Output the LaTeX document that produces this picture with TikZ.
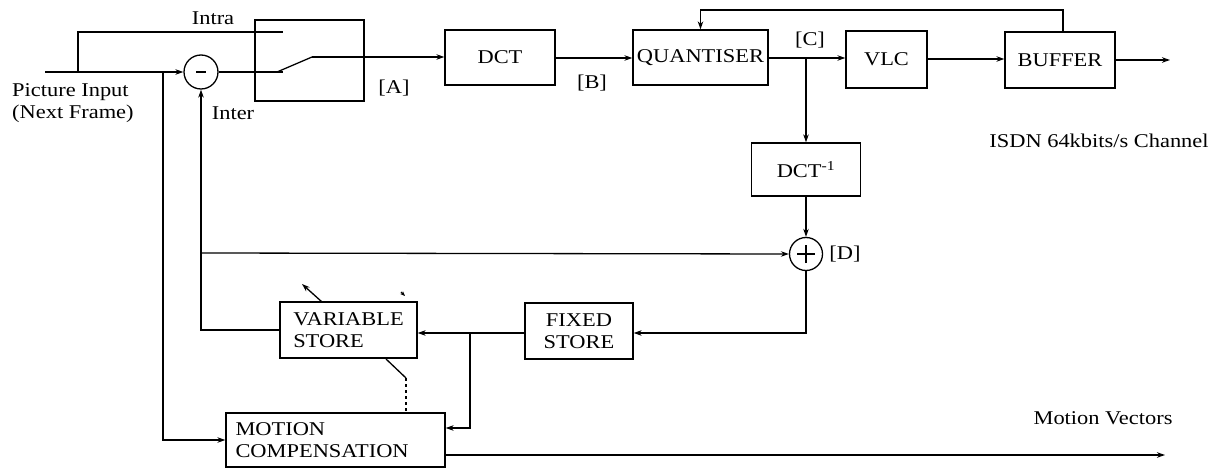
\documentclass[tikz,border=0pt]{standalone}
\usepackage{fontspec}
\setmainfont[FakeStretch=1.15]{Liberation Serif}
\usetikzlibrary{arrows.meta}
\tikzset{
  ln/.style={line width=1.3pt},
  arr/.style={ln,-{Stealth[length=8pt,width=5.5pt]}},
  blk/.style={draw,ln,inner sep=0pt,font=\fontsize{19.5}{22}\selectfont},
  lbl/.style={font=\fontsize{19.5}{22}\selectfont,inner sep=0pt},
  sumc/.style={draw,ln,circle,inner sep=0pt,minimum size=34pt}
}
\begin{document}
\begin{tikzpicture}[x=1pt,y=-1pt]
\useasboundingbox (0,0) rectangle (1222,470);
% blocks
\node[blk,minimum width=109pt,minimum height=81pt] (sw) at (309.5,60.5) {};
\node[blk,minimum width=110pt,minimum height=55pt] (dct) at (500,57.5) {DCT};
\node[blk,minimum width=135pt,minimum height=55pt] (qu) at (700.5,57.5) {QUANTISER};
\node[blk,minimum width=81pt,minimum height=57pt] (vlc) at (886.5,59.5) {VLC};
\node[blk,minimum width=110pt,minimum height=56pt] (buf) at (1060,60) {BUFFER};
\node[blk,minimum width=109pt,minimum height=53pt] (idct) at (806,169.5) {DCT\textsuperscript{-1}};
\node[blk,minimum width=108pt,minimum height=56pt,align=center] (fix) at (579,331) {FIXED\\STORE};
\node[blk,minimum width=137pt,minimum height=56pt,align=left] (var) at (348.5,330) {VARIABLE\\STORE};
\node[blk,minimum width=219pt,minimum height=54pt,align=left,text width=200pt] (mc) at (335.5,440) {MOTION\\COMPENSATION};
\node[sumc] (sub) at (201,72) {};
\draw[ln] ([xshift=-5pt]sub.center) -- ([xshift=5pt]sub.center);
\node[sumc,minimum size=33pt] (add) at (806,254) {};
\draw[ln] ([xshift=-9pt]add.center) -- ([xshift=9pt]add.center);
\draw[ln] ([yshift=-9pt]add.center) -- ([yshift=9pt]add.center);
% coordinates
\coordinate (in) at (45,72);
\coordinate (j1) at (78,72);
\coordinate (j2) at (163,72);
\coordinate (ci) at (283,32);
\coordinate (cl) at (283,72);
\coordinate (bl) at (277,72);
\coordinate (bt) at (312,57);
\coordinate (jc) at (806,58);
\coordinate (jf) at (470,333);
\coordinate (jv) at (201,253);
\coordinate (out) at (1170,60);
\coordinate (mvo) at (1165,455);
% connectors
\draw[arr] (in) -- (sub.west);
\draw[ln] (j1) |- (ci);
\draw[arr] (j2) |- (mc.west);
\draw[ln] (sub.east) -- (cl);
\draw[ln] (bl) -- (bt);
\draw[arr] (bt) -- (bt -| dct.west);
\draw[arr] (dct.east |- 0,58) -- (qu.west |- 0,58);
\draw[arr] (qu.east |- 0,58) -- (vlc.west |- 0,58);
\draw[arr] (jc) -- (idct.north);
\draw[arr] (vlc.east |- 0,59) -- (buf.west |- 0,59);
\draw[arr] (buf.east) -- (out);
\draw[arr] (1063,32) -- (1063,10) -| (qu.north);
\draw[arr] (idct.south) -- (add.north);
\draw[arr] (add.south) |- (fix.east |- 0,333);
\draw[arr] (fix.west |- 0,333) -- (var.east |- 0,333);
\draw[arr] (jf) |- (mc.east |- 0,428);
\draw[arr] (var.west) -| (sub.south);
\draw[arr] (jv) -- (add.west);
\draw[arr] (mc.east |- 0,455) -- (mvo);
\draw[arr] (322,302) -- (302,284);
\draw[ln,-{Stealth[length=5pt,width=4pt]}] (401,292) -- (405,296);
\draw[ln] (386,359) -- (406,378);
\draw[ln,dashed] (406,378) -- (406,413);
% labels
\node[lbl] (lintra) at (213,18) {Intra};
\node[lbl] (linter) at (233,113) {Inter};
\node[lbl] (la) at (394,88) {[A]};
\node[lbl] (lb) at (592,83) {[B]};
\node[lbl] (lc) at (810,40) {[C]};
\node[lbl] (ld) at (845,254) {[D]};
\node[lbl] (lisdn) at (1099,141) {ISDN 64kbits/s Channel};
\node[lbl] (lmv) at (1103,418) {Motion Vectors};
\node[lbl,anchor=west,align=left] (lpi) at (12,103) {Picture Input\\(Next Frame)};
\end{tikzpicture}
\end{document}
